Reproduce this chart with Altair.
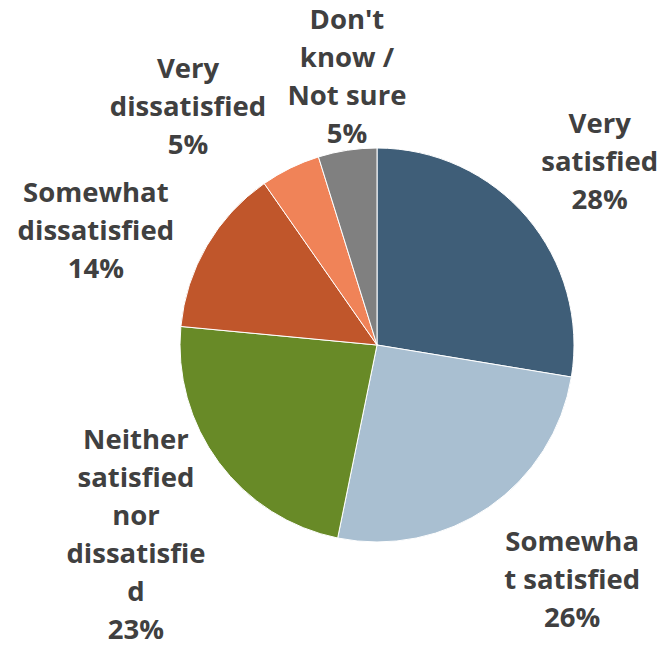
import altair as alt
import pandas as pd

categories = ["Very satisfied", "Somewhat satisfied", "Neither satisfied nor dissatisfied",
              "Somewhat dissatisfied", "Very dissatisfied", "Don't know / Not sure"]
label_lines = ["Very\nsatisfied", "Somewha\nt satisfied", "Neither\nsatisfied\nnor\ndissatisfie\nd",
               "Somewhat\ndissatisfied", "Very\ndissatisfied", "Don't\nknow /\nNot sure"]
shares = [27.6, 25.6, 23.3, 13.8, 4.9, 4.8]
percent_labels = ["28%", "26%", "23%", "14%", "5%", "5%"]
colors = ["#3F5E78", "#A9BFD1", "#688A27", "#C0562B", "#F08358", "#808080"]

df = pd.DataFrame({
    "category": categories,
    "share": shares,
    "label": [l + "\n" + p for l, p in zip(label_lines, percent_labels)],
    "order": list(range(len(categories))),
})

cx, cy = 377, 345
line_h = 38

base = alt.Chart(df).encode(
    theta=alt.Theta("share:Q", stack=True),
    order=alt.Order("order:Q"),
)

pie = base.mark_arc(outerRadius=197, stroke="white", strokeWidth=1).encode(
    color=alt.Color("category:N", scale=alt.Scale(domain=categories, range=colors), legend=None),
    x=alt.value(cx), y=alt.value(cy),
)

# best-fit style nudges of each label block (layout only)
nudges = {
    "Very satisfied": (-6, 12),
    "Somewhat satisfied": (25, -11),
    "Neither satisfied nor dissatisfied": (0, 12),
    "Somewhat dissatisfied": (-22, 38),
    "Very dissatisfied": (-57, 32),
    "Don't know / Not sure": (15, 30),
}

layers = [pie]
for cat, lbl in zip(categories, df["label"]):
    n = lbl.count("\n") + 1
    ndx, ndy = nudges[cat]
    layers.append(
        base.mark_text(
            radius=300, font="Open Sans", fontSize=27.5, fontWeight="bold", color="#404040",
            lineBreak="\n", lineHeight=line_h, align="center", baseline="middle",
            dx=ndx, dy=ndy - (n - 1) * line_h / 2,
        ).encode(
            text=alt.condition(alt.datum.category == cat, "label:N", alt.value("")),
            x=alt.value(cx), y=alt.value(cy),
        )
    )

chart = alt.layer(*layers).properties(
    width=661, height=645, padding=0, autosize=alt.AutoSizeParams(type="none"),
).configure_view(stroke=None)

chart.save("out.html", embed_options={"renderer": "svg", "actions": False})
